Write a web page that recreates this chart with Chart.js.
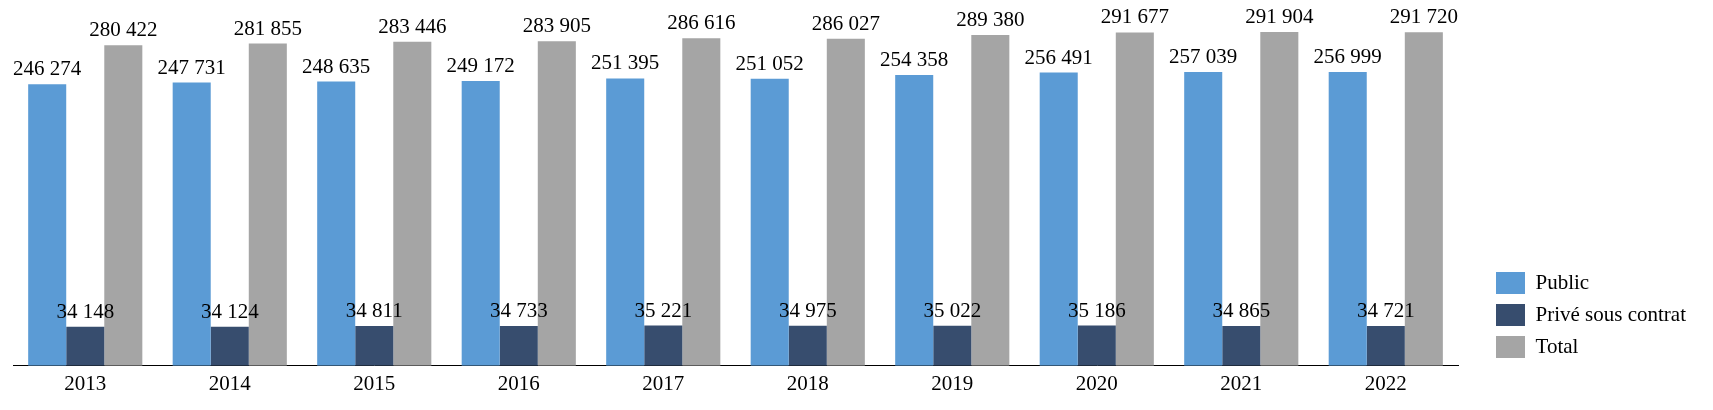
<!DOCTYPE html>
<html>
<head>
<meta charset="utf-8">
<script src="https://cdn.jsdelivr.net/npm/chart.js@4/dist/chart.umd.min.js"></script>
<style>
  html, body { margin: 0; padding: 0; background: #fff; }
  #wrap { width: 1713px; height: 410px; position: relative; }
</style>
</head>
<body>
<div id="wrap"><canvas id="effectifs"></canvas></div>
<script>
// Effectifs par secteur, 2013-2022
const years = ['2013', '2014', '2015', '2016', '2017', '2018', '2019', '2020', '2021', '2022'];
const publicValues = [246274, 247731, 248635, 249172, 251395, 251052, 254358, 256491, 257039, 256999];
const priveValues = [34148, 34124, 34811, 34733, 35221, 34975, 35022, 35186, 34865, 34721];
const totalValues = [280422, 281855, 283446, 283905, 286616, 286027, 289380, 291677, 291904, 291720];

const FONT = "'Liberation Serif', 'Times New Roman', serif";

// French style grouping: 246 274
const fmt = v => String(v).replace(/\B(?=(\d{3})+(?!\d))/g, ' ');

// draws the value above each bar
const valueLabels = {
  id: 'valueLabels',
  afterDatasetsDraw(chart) {
    const ctx = chart.ctx;
    ctx.save();
    ctx.font = '21px ' + FONT;
    ctx.fillStyle = '#000';
    ctx.textAlign = 'center';
    ctx.textBaseline = 'alphabetic';
    chart.data.datasets.forEach((ds, i) => {
      chart.getDatasetMeta(i).data.forEach((bar, j) => {
        ctx.fillText(fmt(ds.data[j]), bar.x, bar.y - 9);
      });
    });
    ctx.restore();
  }
};

new Chart(document.getElementById('effectifs').getContext('2d'), {
  type: 'bar',
  data: {
    labels: years,
    datasets: [{
      label: 'Public',
      data: publicValues,
      backgroundColor: '#5B9BD5'
    }, {
      label: 'Privé sous contrat',
      data: priveValues,
      backgroundColor: '#374D6E'
    }, {
      label: 'Total',
      data: totalValues,
      backgroundColor: '#A5A5A5'
    }]
  },
  options: {
    responsive: true,
    maintainAspectRatio: false,
    animation: false,
    categoryPercentage: 0.79,
    barPercentage: 1.0,
    layout: { padding: { left: 13, right: 17, top: 0, bottom: 7 } },
    plugins: {
      tooltip: { enabled: false },
      // empty title used as a spacer between plot and legend
      title: {
        display: true,
        text: ' ',
        position: 'right',
        weight: 500,
        font: { size: 10 },
        padding: { top: 8, bottom: 8 }
      },
      legend: {
        position: 'right',
        align: 'start',
        title: {
          display: true,
          text: ' ',
          font: { size: 10 },
          padding: { top: 250, bottom: 0 }
        },
        labels: {
          color: '#000',
          boxWidth: 29,
          boxHeight: 22,
          padding: 10,
          font: { family: FONT, size: 21 }
        }
      }
    },
    scales: {
      x: {
        grid: { display: false, drawTicks: false },
        border: { display: true, color: '#000', width: 1 },
        ticks: { color: '#000', padding: 6, font: { family: FONT, size: 21 } }
      },
      y: {
        display: false,
        min: 0,
        max: 320000
      }
    }
  },
  plugins: [valueLabels]
});
</script>
</body>
</html>
